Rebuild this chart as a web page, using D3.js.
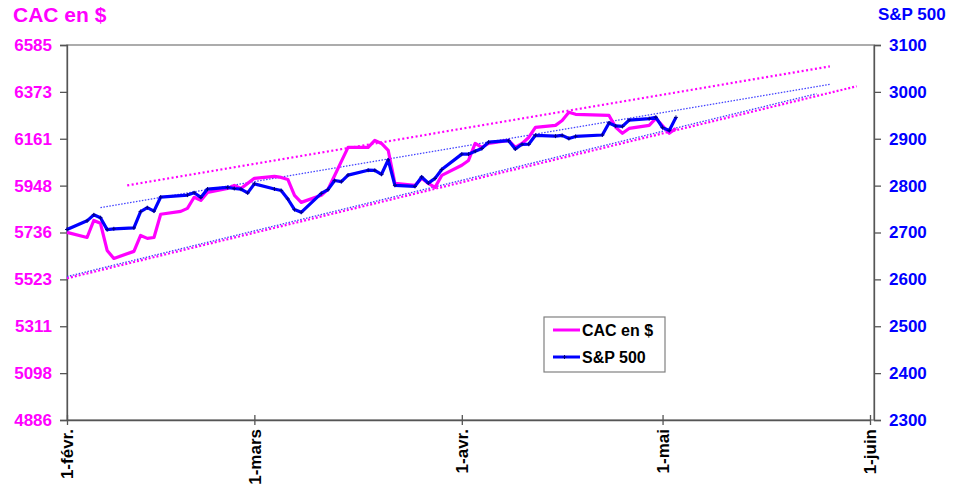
<!DOCTYPE html>
<html><head><meta charset="utf-8">
<script src="https://cdn.jsdelivr.net/npm/d3@7"></script>
<style>
body{margin:0;background:#fff;}
svg text{font-family:Arial,"Liberation Sans",sans-serif;font-weight:bold;}
</style>
</head><body><svg id="c" width="958" height="497"></svg>
<script>
// ---------- DATA ----------
const spDates = ["02-01","02-04","02-05","02-06","02-07","02-08","02-11","02-12","02-13","02-14","02-15","02-19","02-20","02-21","02-22","02-25","02-26","02-27","02-28",
"03-01","03-04","03-05","03-06","03-07","03-08","03-11","03-12","03-13","03-14","03-15","03-18","03-19","03-20","03-21","03-22","03-25","03-26","03-27","03-28","03-29",
"04-01","04-02","04-03","04-04","04-05","04-08","04-09","04-10","04-11","04-12","04-15","04-16","04-17","04-18","04-22","04-23","04-24","04-25","04-26","04-29","04-30",
"05-01","05-02","05-03"];
const spValues = [2706.5,2724.9,2737.7,2731.6,2706.1,2707.9,2709.8,2744.7,2753.0,2745.7,2775.6,2779.8,2784.7,2774.9,2792.7,2796.1,2793.9,2792.4,2784.5,
2803.7,2792.8,2789.7,2771.5,2748.9,2743.1,2783.3,2791.5,2810.9,2808.5,2822.5,2832.9,2832.6,2824.2,2854.9,2800.7,2798.4,2818.5,2805.4,2815.4,2834.4,
2867.2,2867.2,2873.4,2879.4,2892.7,2895.8,2878.2,2888.2,2888.3,2907.4,2905.6,2907.1,2900.5,2905.0,2908.0,2933.7,2927.3,2926.2,2939.9,2943.0,2945.8,
2923.7,2917.5,2945.6];

const cacDates = ["02-01","02-04","02-05","02-06","02-07","02-08","02-11","02-12","02-13","02-14","02-15","02-18","02-19","02-20","02-21","02-22","02-25","02-26","02-27","02-28",
"03-01","03-04","03-05","03-06","03-07","03-08","03-11","03-12","03-13","03-14","03-15","03-18","03-19","03-20","03-21","03-22","03-25","03-26","03-27","03-28","03-29",
"04-01","04-02","04-03","04-04","04-05","04-08","04-09","04-10","04-11","04-12","04-15","04-16","04-17","04-18","04-23","04-24","04-25","04-26","04-29","04-30",
"05-02","05-03"];
const cacValues = [5736,5713,5790,5777,5654,5618,5650,5722,5709,5713,5818,5831,5845,5895,5881,5917,5935,5949,5935,5958,
5981,5990,5985,5976,5904,5872,5904,5931,5994,6058,6121,6121,6153,6139,6108,5958,5949,5981,5958,5940,5994,
6040,6062,6139,6121,6139,6153,6121,6139,6166,6212,6221,6243,6280,6271,6266,6212,6185,6207,6221,6253,
6185,6207];

// trend lines: [start date, end date] and [start value, end value]
const cacUpperDates = ["02-10","05-26"], cacUpperValues = [5949,6488];
const cacLowerDates = ["02-01","05-30"], cacLowerValues = [5528,6398];
const spMidDates = ["02-06","05-26"], spMidValues = [2753,3016];
const spLowerDates = ["02-01","05-24"], spLowerValues = [2606,2996];

const xTickDates = ["02-01","03-01","04-01","05-01","06-01"];
const xTickLabels = ["1-févr.","1-mars","1-avr.","1-mai","1-juin"];
const cacTickLabels = ["4886","5098","5311","5523","5736","5948","6161","6373","6585"];
const spTickLabels = ["2300","2400","2500","2600","2700","2800","2900","3000","3100"];

// ---------- CHART ----------
const MAG = "#ff00ff", BLU = "#0000ff";
const parse = s => d3.utcParse("%Y-%m-%d")("2019-" + s);
const svg = d3.select("#c");
const L = 67, R = 874, T = 45, B = 420;

const x = d3.scaleUtc().domain([parse("02-01"), parse("06-01")]).range([L, 870]);
const cacMin = +cacTickLabels[0], cacMax = +cacTickLabels[cacTickLabels.length-1];
const yL = d3.scaleLinear().domain([cacMin, cacMax]).range([B, T]);
const yR = d3.scaleLinear().domain([+spTickLabels[0], +spTickLabels[spTickLabels.length-1]]).range([B, T]);

// plot border
svg.append("rect").attr("x", L).attr("y", T).attr("width", R - L).attr("height", B - T)
  .attr("fill", "none").attr("stroke", "#808080").attr("stroke-width", 1.3);

// left axis
const cacStep = (cacMax - cacMin) / (cacTickLabels.length - 1);
const cacTickVals = cacTickLabels.map((d, i) => cacMin + i * cacStep);
const gL = svg.append("g").attr("transform", `translate(${L},0)`)
  .call(d3.axisLeft(yL).tickValues(cacTickVals).tickFormat((d, i) => cacTickLabels[i]).tickSize(7).tickPadding(8));
gL.selectAll("path,line").attr("stroke", "#555").attr("stroke-width", 1.3);
gL.selectAll("text").attr("fill", MAG).style("font-size", "17px").style("font-weight", "bold");

// right axis
const gR = svg.append("g").attr("transform", `translate(${R},0)`)
  .call(d3.axisRight(yR).tickValues(spTickLabels.map(Number)).tickFormat((d, i) => spTickLabels[i]).tickSize(7).tickPadding(8));
gR.selectAll("path,line").attr("stroke", "#555").attr("stroke-width", 1.3);
gR.selectAll("text").attr("fill", BLU).style("font-size", "17px").style("font-weight", "bold");

// bottom axis
const gB = svg.append("g").attr("transform", `translate(0,${B})`)
  .call(d3.axisBottom(x).tickValues(xTickDates.map(parse)).tickFormat((d, i) => xTickLabels[i]).tickSizeInner(5).tickSizeOuter(0).tickPadding(8));
gB.select("path").attr("stroke", "#555").attr("stroke-width", 1.3);
gB.selectAll("line").attr("stroke", "#555").attr("stroke-width", 1.3).attr("y1", -5);
gB.selectAll("text").attr("fill", "#000").style("font-size", "17px").style("font-weight", "bold")
  .attr("transform", "rotate(-90)").attr("text-anchor", "end").attr("x", -9).attr("y", 0).attr("dy", "0.35em");

// titles
svg.append("text").attr("x", 13).attr("y", 22).attr("fill", MAG).style("font-size", "21px").text("CAC en $");
svg.append("text").attr("x", 878).attr("y", 20).attr("fill", BLU).style("font-size", "17px").text("S&P 500");

// trend lines
function trend(dates, vals, y, color, w, dash) {
  svg.append("line")
    .attr("x1", x(parse(dates[0]))).attr("y1", y(vals[0]))
    .attr("x2", x(parse(dates[1]))).attr("y2", y(vals[1]))
    .attr("stroke", color).attr("stroke-width", w).attr("stroke-dasharray", dash);
}
trend(cacLowerDates, cacLowerValues, yL, MAG, 2.2, "2,2");
trend(spLowerDates, spLowerValues, yR, "#4040ff", 1.3, "1.5,1.5");
trend(cacUpperDates, cacUpperValues, yL, MAG, 2.2, "2,2.5");
trend(spMidDates, spMidValues, yR, "#4040ff", 1.3, "1.5,1.5");

// series
const cacData = cacDates.map((d, i) => ({d: parse(d), v: cacValues[i]}));
const spData = spDates.map((d, i) => ({d: parse(d), v: spValues[i]}));

svg.append("path").datum(cacData)
  .attr("d", d3.line().x(p => x(p.d)).y(p => yL(p.v)))
  .attr("fill", "none").attr("stroke", MAG).attr("stroke-width", 3.2).attr("stroke-linejoin", "round");

svg.append("path").datum(spData)
  .attr("d", d3.line().x(p => x(p.d)).y(p => yR(p.v)))
  .attr("fill", "none").attr("stroke", BLU).attr("stroke-width", 3.2).attr("stroke-linejoin", "round");
svg.append("g").selectAll("path").data(spData).join("path")
  .attr("d", p => `M${x(p.d)-2},${yR(p.v)}h4M${x(p.d)},${yR(p.v)-2}v4`)
  .attr("stroke", "#000080").attr("stroke-width", 1);

// legend
const lg = svg.append("g");
lg.append("rect").attr("x", 544).attr("y", 317).attr("width", 121).attr("height", 55)
  .attr("fill", "#fff").attr("stroke", "#808080").attr("stroke-width", 1.2);
const legendItems = [{label: "CAC en $", color: MAG, marker: false}, {label: "S&P 500", color: BLU, marker: true}];
legendItems.forEach((it, i) => {
  const yy = 330 + i * 27;
  lg.append("line").attr("x1", 553).attr("x2", 580).attr("y1", yy).attr("y2", yy)
    .attr("stroke", it.color).attr("stroke-width", 3);
  if (it.marker) lg.append("path").attr("d", `M564.5,${yy-2}v4M562.5,${yy}h4`).attr("stroke", "#000080").attr("stroke-width", 1);
  lg.append("text").attr("x", 582).attr("y", yy).attr("dy", "0.35em").style("font-size", "16px").attr("fill", "#000").text(it.label);
});
</script>
</body></html>
